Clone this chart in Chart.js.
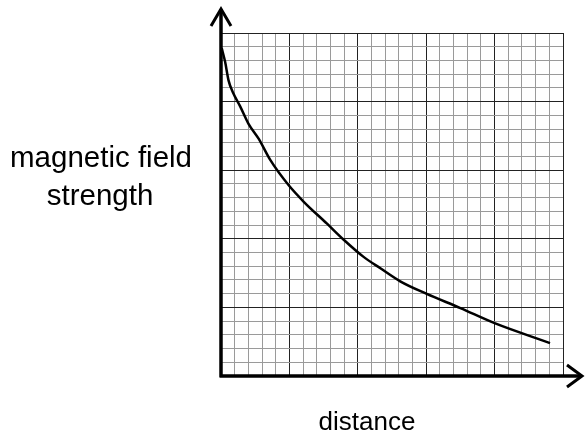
<!DOCTYPE html>
<html>
<head>
<meta charset="utf-8">
<script src="https://cdn.jsdelivr.net/npm/chart.js@4"></script>
<style>
  html, body { margin: 0; padding: 0; background: #fff; }
  #wrap { width: 585px; height: 439px; }
</style>
</head>
<body>
<div id="wrap"><canvas id="fieldChart"></canvas></div>
<script>
// distance (in big squares) and field strength (in big squares)
var distance = [0.01, 0.06, 0.11, 0.18, 0.28, 0.40, 0.55, 0.72, 0.99, 1.21, 1.55, 1.79, 2.08, 2.33, 2.62, 3.0, 3.5, 4.0, 4.81];
var strength = [4.78, 4.58, 4.31, 4.12, 3.93, 3.68, 3.46, 3.15, 2.78, 2.54, 2.22, 1.99, 1.74, 1.57, 1.38, 1.20, 0.99, 0.77, 0.48];
var yLabel = ['magnetic field', 'strength'];
var xLabel = 'distance';

var points = distance.map((d, i) => ({x: d, y: strength[i]}));

function gridColor(c) {
    var v = c.tick ? c.tick.value : 0;
    return Math.abs(v - Math.round(v)) < 1e-6 ? '#222' : '#9a9a9a';
}

// arrows on the axes and the hand-placed labels
const axesPlugin = {
    id: 'axesPlugin',
    afterDraw(chart) {
        const ctx = chart.ctx;
        const a = chart.chartArea;
        ctx.save();
        ctx.strokeStyle = '#000';
        ctx.lineCap = 'butt';
        ctx.lineWidth = 3.5;
        ctx.beginPath();
        ctx.moveTo(a.left, a.bottom + 1);
        ctx.lineTo(a.left, 9);
        ctx.moveTo(a.left - 1.5, a.bottom);
        ctx.lineTo(582, a.bottom);
        ctx.stroke();
        ctx.lineWidth = 3;
        ctx.beginPath();
        ctx.moveTo(a.left - 10, 26);
        ctx.lineTo(a.left, 9);
        ctx.lineTo(a.left + 10, 26);
        ctx.moveTo(567, a.bottom - 11);
        ctx.lineTo(582, a.bottom);
        ctx.lineTo(567, a.bottom + 11);
        ctx.stroke();

        ctx.fillStyle = '#000';
        ctx.textAlign = 'center';
        ctx.textBaseline = 'alphabetic';
        ctx.font = '29.5px "Liberation Sans", Arial, sans-serif';
        ctx.fillText(yLabel[0], 101, 167);
        ctx.fillText(yLabel[1], 100, 205);
        ctx.font = '26px "Liberation Sans", Arial, sans-serif';
        ctx.fillText(xLabel, 367, 430);
        ctx.restore();
    }
};

const ctx = document.getElementById('fieldChart').getContext('2d');
const fieldChart = new Chart(ctx, {
    type: 'line',
    data: {
        datasets: [{
            data: points,
            borderColor: '#000',
            borderWidth: 2.5,
            pointRadius: 0,
            cubicInterpolationMode: 'monotone',
            fill: false
        }]
    },
    options: {
        responsive: true,
        maintainAspectRatio: false,
        animation: false,
        layout: {
            padding: {left: 221, top: 33, right: 22, bottom: 63}
        },
        plugins: {
            legend: {display: false},
            tooltip: {enabled: false}
        },
        scales: {
            x: {
                type: 'linear',
                min: 0,
                max: 5,
                ticks: {display: false, stepSize: 0.2},
                border: {display: false},
                grid: {color: gridColor, lineWidth: 1, drawTicks: false}
            },
            y: {
                min: 0,
                max: 5,
                ticks: {display: false, stepSize: 0.2},
                border: {display: false},
                grid: {color: gridColor, lineWidth: 1, drawTicks: false}
            }
        }
    },
    plugins: [axesPlugin]
});
</script>
</body>
</html>
